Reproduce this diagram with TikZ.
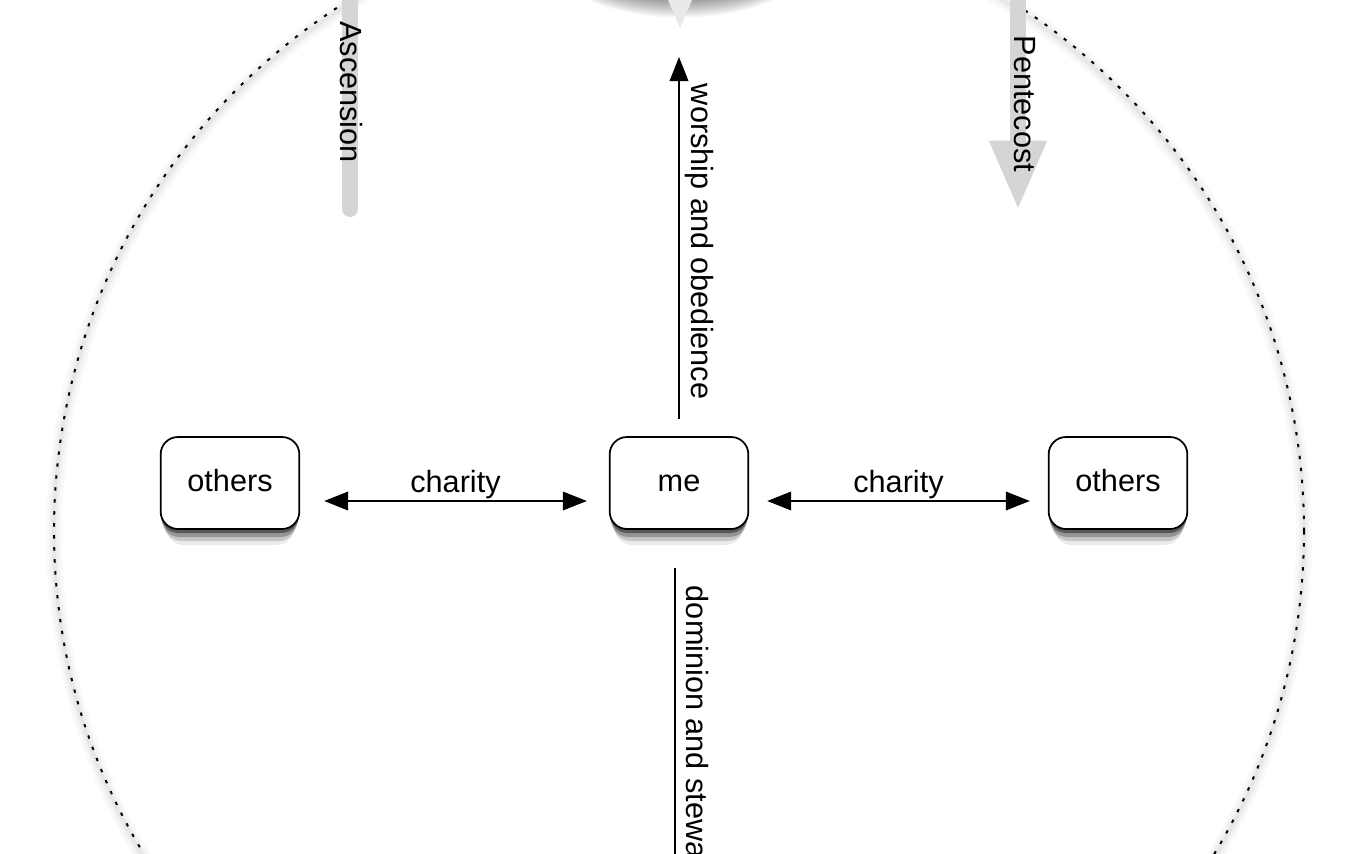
\documentclass[tikz,border=0pt]{standalone}
\usepackage{fontspec}
\setmainfont{Liberation Sans}
\usetikzlibrary{arrows.meta,positioning}
\definecolor{liftgray}{HTML}{D5D5D5}
\tikzset{
  person/.style={draw=black, line width=1.3pt, rounded corners=13pt, minimum width=104pt, minimum height=69pt, align=center, fill=white,
    text height=17pt, text depth=5pt},
  personshadow/.style={fill=black, rounded corners=13pt},
  vlabel/.style={rotate=-90, inner sep=2pt},
  relation/.style={line width=1.1pt},
  lift/.style={liftgray, line width=12pt},
  world/.style={line width=1.5pt, dash pattern=on 2.5pt off 6.5pt}
}

\begin{document}
\begin{tikzpicture}[x=0.75pt, y=-0.75pt, >={Triangle[length=18pt,width=14pt]}, font=\fontsize{23}{27}\selectfont]
  \useasboundingbox[fill=white] (0,0) rectangle (1355,853);
  % shadows at the top and round the world
  \foreach \i in {0,...,11}
    \fill[black, opacity=0.035] (681,-52) ellipse [x radius={93pt+\i*1.1pt}, y radius={40pt+\i*1.1pt}];
  \fill[black!9] (668,0) -- (692,0) -- (680,28) -- cycle;
  \foreach \w/\o in {12/0.025, 7/0.03, 3/0.04}
    \draw[line width=\w pt, black, opacity=\o] (679,535) circle [radius=468.75pt];
  \draw[world] (679,531) circle [radius=468.75pt];
  % Ascension and Pentecost
  \draw[lift, line cap=round] (350,-20) -- (350,209);
  \draw[lift, -{Triangle[length=52pt,width=40pt]}] (1018,-20) -- (1018,210);
  \node[vlabel] (ascension) at (351,92) {Ascension};
  \node[vlabel] (pentecost) at (1025,104) {Pentecost};
  % people
  \foreach \cx in {230,679,1118}
    \foreach \s/\d/\o in {16/5/0.08, 12/3/0.15, 8/1/0.25, 4/0/0.4}
      \fill[personshadow, opacity=\o] (\cx-69+\d,437+\s) rectangle (\cx+69-\d,529+\s);
  \node[person] (me) at (679,483) {me};
  \node[person] (othersL) at (230,483) {others};
  \node[person] (othersR) at (1118,483) {others};
  \draw[relation, <->] ([shift={(24,18)}]othersL.east) -- node[above, inner sep=1pt] (charityL) {charity} ([shift={(-22,18)}]me.west);
  \draw[relation, <->] ([shift={(18,18)}]me.east) -- node[above, inner sep=1pt] (charityR) {charity} ([shift={(-18,18)}]othersR.west);
  % up and down
  \coordinate (heaven) at (679,57);
  \coordinate (earth) at (675,900);
  \draw[relation, ->] ([shift={(0,-17)}]me.north) -- node[vlabel, anchor=south, pos=0.49, inner sep=4pt] (worship) {worship and obedience} (heaven);
  \draw[relation] ([shift={(-4,38)}]me.south) -- (earth);
  \node[vlabel, anchor=south west] (dominion) at (677,583) {dominion and stewardship};
\end{tikzpicture}
\end{document}
